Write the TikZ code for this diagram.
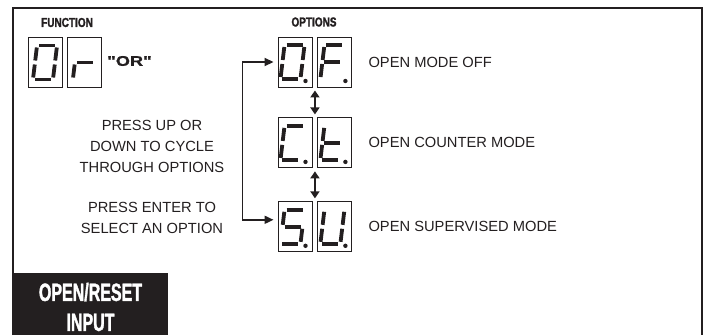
\documentclass[tikz,border=0pt]{standalone}
\usepackage{fontspec}
\setmainfont{Liberation Sans}
\newfontfamily\headfont{Liberation Sans Bold}[FakeStretch=0.77, FakeBold=1.6]
\newfontfamily\tagfont{Liberation Sans Bold}[FakeStretch=0.64, FakeBold=1.4]
\newfontfamily\widefont{Liberation Sans Bold}[FakeStretch=1.3, FakeBold=1.2]
\usepackage{xcolor}
\usetikzlibrary{positioning, arrows.meta, calc}

\definecolor{ink}{HTML}{231F20}

% seven segment digit inside a display box: box, xshift, segment pairs
\newcommand{\sevenseg}[3]{%
    \begin{scope}[shift={(#1.center)}, xshift=#2, xslant=0.12]
        \coordinate (tl) at (-10,-17);
        \coordinate (tr) at (10,-17);
        \coordinate (ml) at (-10,0);
        \coordinate (mr) at (10,0);
        \coordinate (bl) at (-10,17);
        \coordinate (br) at (10,17);
        \foreach \p/\q in {#3}
            {\draw[segline] (\p) -- (\q);}
    \end{scope}}
\newcommand{\segdot}[1]{\fill[ink] ($(#1.center)+(10.5,19)$) circle (2.2pt);}

\begin{document}
\begin{tikzpicture}[
            x=1pt, y=-1pt,
            >={Triangle[length=7pt, width=9pt]},
            display/.style={rectangle, draw=ink, line width=0.9pt, minimum width=34pt,
                    minimum height=50pt, inner sep=0pt},
            heading/.style={font=\headfont\fontsize{13}{15}\selectfont, text=ink, inner sep=0pt},
            note/.style={font=\fontsize{14.7}{21}\selectfont, text=ink, align=center, inner sep=0pt},
            segline/.style={line width=3.8pt, ink, shorten <=2pt, shorten >=2pt},
            link/.style={line width=1.7pt, ink},
            ]

            \useasboundingbox (0,0) rectangle (707,335);

            % frame
            \draw[line width=2.4pt, ink] (13,335) -- (13,8) -- (702,8) -- (702,335);

            % function
            \node[heading] (function) at (67,22.5) {FUNCTION};
            \node[display] (fn1) at (45,62.5) {};
            \node[display, right=5pt of fn1] (fn2) {};
            \node[font=\widefont\fontsize{14}{16}\selectfont, text=ink, anchor=west,
                inner sep=0pt] (or) at (107,61) {"OR"};

            \sevenseg{fn1}{0pt}{tl/tr, tr/mr, mr/br, bl/br, ml/bl, tl/ml}
            \sevenseg{fn2}{0pt}{ml/mr, ml/bl}

            % options
            \node[heading] (options) at (314,22) {OPTIONS};
            \node[display] (off1) at (295,62) {};
            \node[display, right=5pt of off1] (off2) {};
            \node[display, below=30pt of off1] (ct1) {};
            \node[display, right=5pt of ct1] (ct2) {};
            \node[display, below=33pt of ct1] (su1) {};
            \node[display, right=5pt of su1] (su2) {};

            \sevenseg{off1}{-2.5pt}{tl/tr, tr/mr, mr/br, bl/br, ml/bl, tl/ml}
            \sevenseg{off2}{-2.5pt}{tl/tr, ml/mr, ml/bl, tl/ml}
            \sevenseg{ct1}{-2.5pt}{tl/tr, bl/br, ml/bl, tl/ml}
            \sevenseg{ct2}{-2.5pt}{ml/mr, bl/br, ml/bl, tl/ml}
            \sevenseg{su1}{-2.5pt}{tl/tr, tl/ml, ml/mr, mr/br, bl/br}
            \sevenseg{su2}{-2.5pt}{tr/mr, mr/br, bl/br, ml/bl, tl/ml}
            \foreach \d in {off1, off2, ct1, ct2, su1, su2}
                {\segdot{\d}}

            \node[note, anchor=west, right=16pt of off2] (offtxt) {OPEN MODE OFF};
            \node[note, anchor=west, right=16pt of ct2] (cttxt) {OPEN COUNTER MODE};
            \node[note, anchor=west, right=16pt of su2] (sutxt) {OPEN SUPERVISED MODE};

            \draw[link, <->] ($(off1.south east)!0.5!(off2.south west)+(0,3)$)
            -- ($(ct1.north east)!0.5!(ct2.north west)+(0,-3)$);
            \draw[link, <->] ($(ct1.south east)!0.5!(ct2.south west)+(0,3)$)
            -- ($(su1.north east)!0.5!(su2.north west)+(0,-3)$);

            % cycle bracket
            \draw[link, <->, >={Triangle[length=9pt, width=8pt]}] ([xshift=-4pt]off1.west)
            -- ++(-31,0) |- ([xshift=-4pt, yshift=7pt]su1.west);

            \node[note] (cycle) at (152,146) {PRESS UP OR\\DOWN TO CYCLE\\THROUGH OPTIONS};
            \node[note] (enter) at (152,217.5) {PRESS ENTER TO\\SELECT AN OPTION};

            % input tag
            \node[fill=ink, minimum width=155pt, minimum height=62pt, anchor=north west,
                inner sep=0pt] (tag) at (13,273) {};
            \node[font=\tagfont\fontsize{25}{30}\selectfont, text=white, align=center,
                inner sep=0pt] (tagtext) at (90.5,307) {OPEN/RESET\\INPUT};

        \end{tikzpicture}
\end{document}
